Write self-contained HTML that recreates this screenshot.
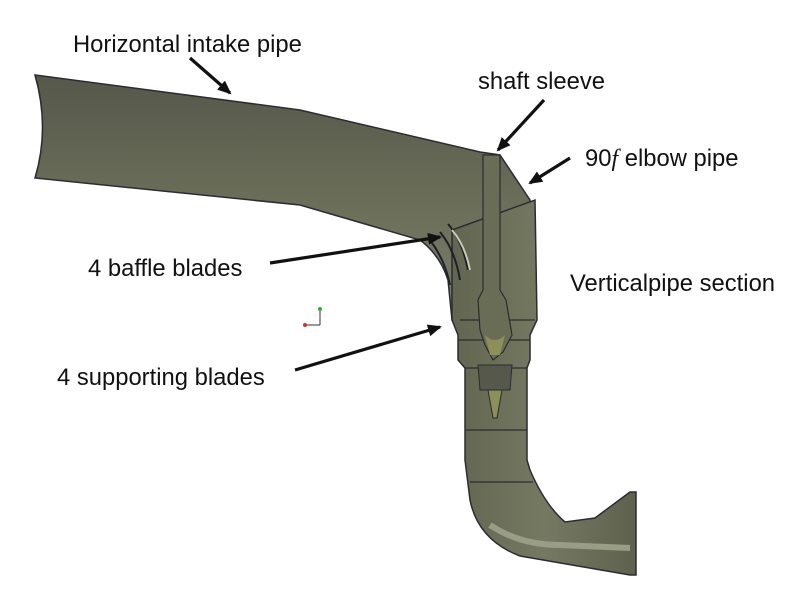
<!DOCTYPE html>
<html><head><style>
body{margin:0;background:#fff}
svg{display:block}
text{font-family:"Liberation Sans",sans-serif;font-size:23.8px;fill:#111}
</style></head><body>
<svg width="800" height="600" viewBox="0 0 800 600">
<defs>
<linearGradient id="g1" x1="0" y1="0" x2="0" y2="1">
<stop offset="0" stop-color="#55584a"/><stop offset="0.5" stop-color="#6a6d58"/><stop offset="1" stop-color="#7a7d66"/>
</linearGradient>
<linearGradient id="g2" x1="0" y1="0" x2="1" y2="0">
<stop offset="0" stop-color="#62654f"/><stop offset="0.5" stop-color="#767962"/><stop offset="1" stop-color="#5e614d"/>
</linearGradient>
<marker id="ar" markerWidth="14" markerHeight="12" refX="12" refY="6" orient="auto" markerUnits="userSpaceOnUse">
<path d="M0,0 L14,6 L0,12 z" fill="#111"/></marker>
</defs>
<path d="M35,75 L300,110 L480,152 L500,155 L530,200 L535,320 L452,320 L448,280 Q440,255 420,240 L300,205 L35,178 Q50,128 35,75 z" fill="url(#g1)" stroke="#2a2c33" stroke-width="1.5"/>
<path d="M452,230 L452,320 L458,335 L458,360 L465,368 L465,460 L470,500 Q478,540 520,556 L630,575 L636,575 L636,492 L630,492 L595,518 L565,522 Q545,505 530,470 L527,460 L527,368 L530,360 L530,335 L537,320 L535,200 z" fill="url(#g2)" stroke="#2a2c33" stroke-width="1.5"/>
<path d="M460,320 L535,320 M458,340 L530,340 M465,368 L527,368 M466,430 L527,430 M470,482 L533,482" stroke="#2a2c33" stroke-width="1.2" fill="none"/>
<path d="M490,525 Q520,545 560,545 L630,548" stroke="#9a9d86" stroke-width="6" fill="none"/>
<path d="M430,240 Q445,260 450,285 M440,232 Q455,250 460,280 M448,224 Q462,240 468,270" stroke="#1e2028" stroke-width="2" fill="none"/>
<path d="M452,230 Q465,245 470,270" stroke="#c8cab8" stroke-width="2" fill="none"/>
<path d="M483,155 L500,155 L500,290 L506,300 L512,335 L503,352 L493,360 L485,345 L480,330 L478,300 L483,290 z" fill="#6a6d55" stroke="#2a2c33" stroke-width="1.2"/>
<path d="M485,335 Q495,345 505,335 L500,355 L490,355 z" fill="#8c8f58"/>
<path d="M478,365 L512,365 L510,390 L480,390 z" fill="#55584a" stroke="#2a2c33"/>
<path d="M488,390 L502,390 L497,418 L493,418 z" fill="#8c8f58" stroke="#2a2c33"/>
<path d="M320,325 L320,310 M320,325 L306,325" stroke="#333" stroke-width="1"/>
<circle cx="320" cy="309" r="2" fill="#3a3"/><circle cx="305" cy="325" r="2" fill="#c33"/>
<text x="73" y="52">Horizontal intake pipe</text>
<text x="478" y="89">shaft sleeve</text>
<text x="585" y="166">90<tspan font-style="italic" font-family="Liberation Serif">f</tspan> elbow pipe</text>
<text x="570" y="291">Verticalpipe section</text>
<text x="88" y="276">4 baffle blades</text>
<text x="57" y="385">4 supporting blades</text>
<g stroke="#111" stroke-width="3.2" marker-end="url(#ar)">
<line x1="190" y1="58" x2="230" y2="93"/>
<line x1="544" y1="100" x2="498" y2="150"/>
<line x1="570" y1="158" x2="530" y2="183"/>
<line x1="270" y1="263" x2="440" y2="237"/>
<line x1="295" y1="370" x2="440" y2="327"/>
</g>
</svg>
</body></html>
